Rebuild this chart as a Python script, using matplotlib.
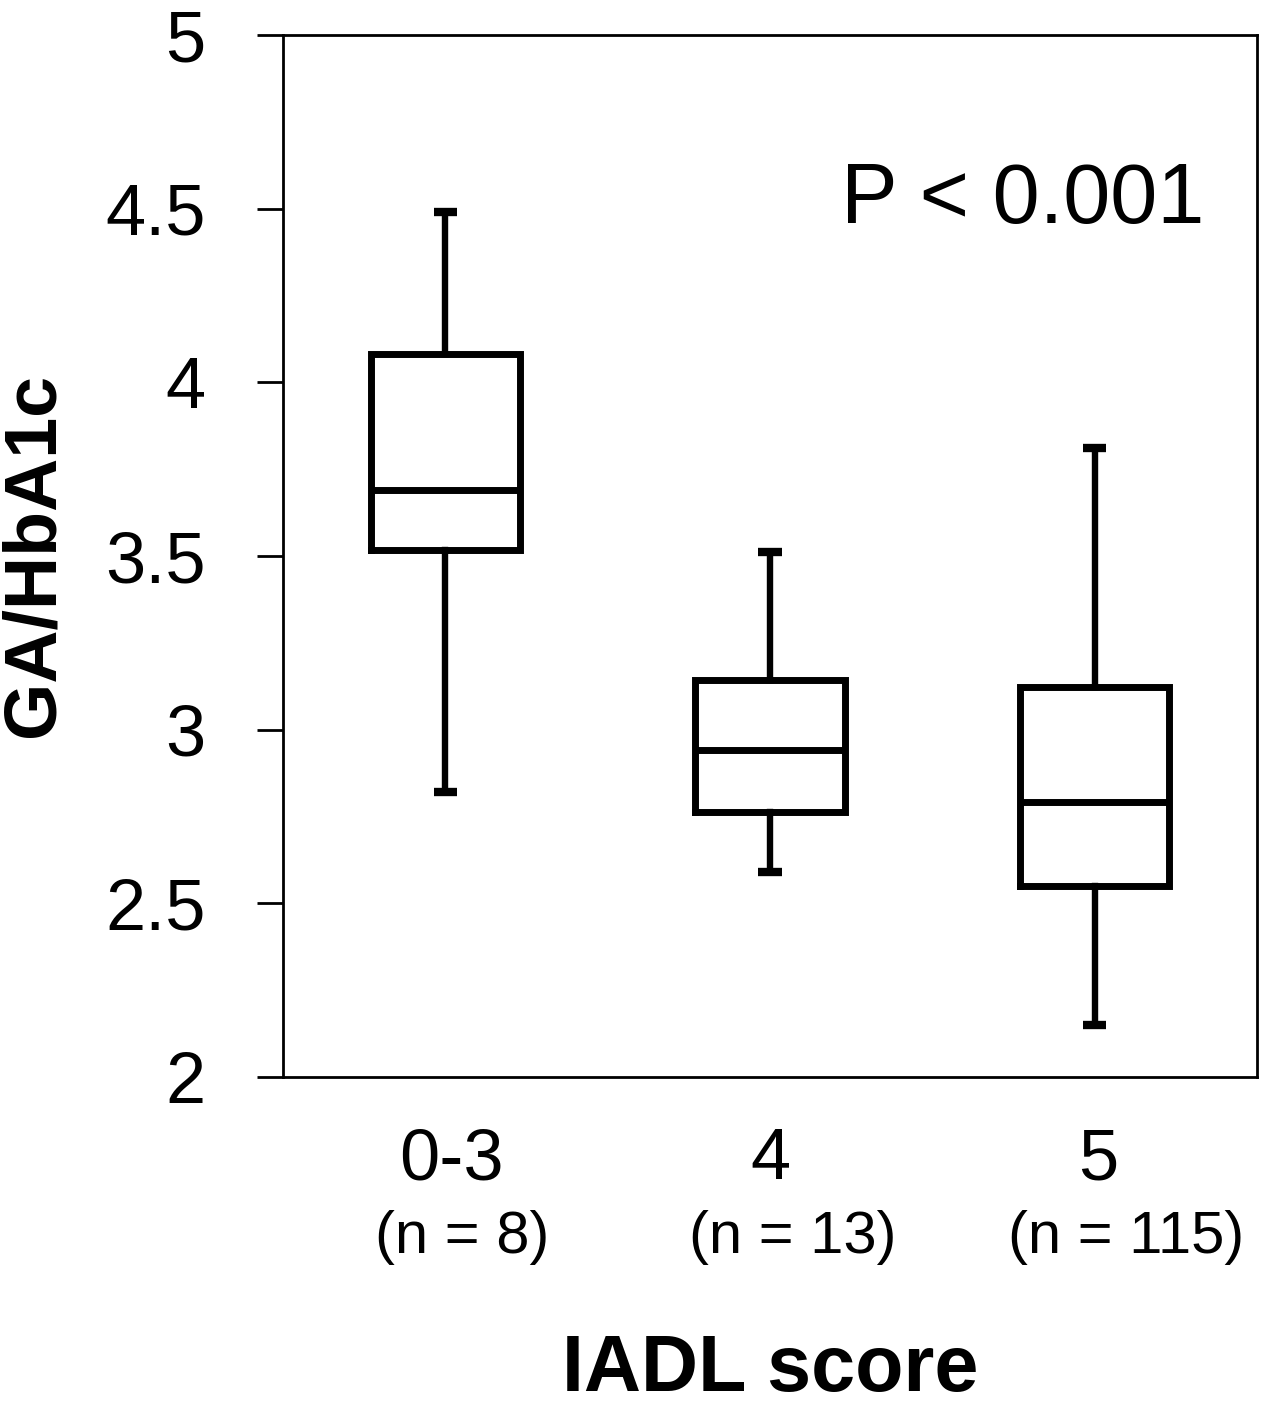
import matplotlib
matplotlib.use("Agg")
import matplotlib.pyplot as plt
from matplotlib import transforms

plt.rcParams['font.family'] = ['Liberation Sans', 'DejaVu Sans']

# ---- data ----
categories = ["0-3", "4", "5"]
n_labels = ["(n = 8)", "(n = 13)", "(n = 115)"]
whislo = [2.82, 2.59, 2.15]
q1 = [3.516, 2.763, 2.551]
median = [3.691, 2.942, 2.791]
q3 = [4.081, 3.142, 3.122]
whishi = [4.49, 3.511, 3.81]
yticks = [2, 2.5, 3, 3.5, 4, 4.5, 5]
ytick_labels = ["2", "2.5", "3", "3.5", "4", "4.5", "5"]
p_text = "P < 0.001"
xlabel = "IADL score"
ylabel = "GA/HbA1c"

# ---- figure ----
W, H = 1267, 1406
fig = plt.figure(figsize=(W / 100, H / 100), dpi=100)
ax = fig.add_axes([283 / W, 1 - 1077 / H, (1257 - 283) / W, (1077 - 35) / H])

stats = []
for i in range(len(categories)):
    stats.append(dict(med=median[i], q1=q1[i], q3=q3[i],
                      whislo=whislo[i], whishi=whishi[i], fliers=[]))
positions = list(range(1, len(categories) + 1))
ax.bxp(stats, positions=positions, widths=0.46, showfliers=False,
       boxprops=dict(color='black', linewidth=5.0, solid_joinstyle='miter'),
       medianprops=dict(color='black', linewidth=5.0),
       whiskerprops=dict(color='black', linewidth=4.6),
       capprops=dict(color='black', linewidth=6.0, solid_capstyle='butt'),
       capwidths=0.072)

ax.set_xlim(0.5, 3.5)
ax.set_ylim(2, 5)

for s in ax.spines.values():
    s.set_linewidth(2.0)
    s.set_color('black')

ax.set_yticks(yticks)
ax.set_yticklabels(ytick_labels, fontsize=52)
ax.tick_params(axis='y', direction='out', length=18.7, width=2.0, pad=37)
ax.set_xticks(positions)
ax.set_xticklabels(categories, fontsize=52)
ax.tick_params(axis='x', length=0, pad=36)
for lbl, dx in zip(ax.get_xticklabels(), [6, 0, 4]):
    lbl.set_transform(lbl.get_transform() + transforms.ScaledTranslation(dx / 100, 0, fig.dpi_scale_trans))

# n labels below category labels
trans = transforms.blended_transform_factory(ax.transData, ax.transAxes)
n_offsets_px = [17, 23, 31]
for x, lab, dx in zip(positions, n_labels, n_offsets_px):
    t = trans + transforms.ScaledTranslation(dx / 100, 0, fig.dpi_scale_trans)
    ax.text(x, (1077 - 1253) / (1077 - 35), lab, transform=t,
            ha='center', va='baseline', fontsize=43)

# axis labels
ax.text(0.5, (1077 - 1391) / (1077 - 35), xlabel, transform=ax.transAxes,
        ha='center', va='baseline', fontsize=57, fontweight='bold')
fig.text(34 / W, 1 - 555 / H, ylabel, rotation=90, ha='center', va='center',
         fontsize=53, fontweight='bold')

# P value
ax.text((1204 - 283) / (1257 - 283), (1077 - 223) / (1077 - 35), p_text,
        transform=ax.transAxes, ha='right', va='baseline', fontsize=61)

fig.savefig("out.png", dpi=100)
